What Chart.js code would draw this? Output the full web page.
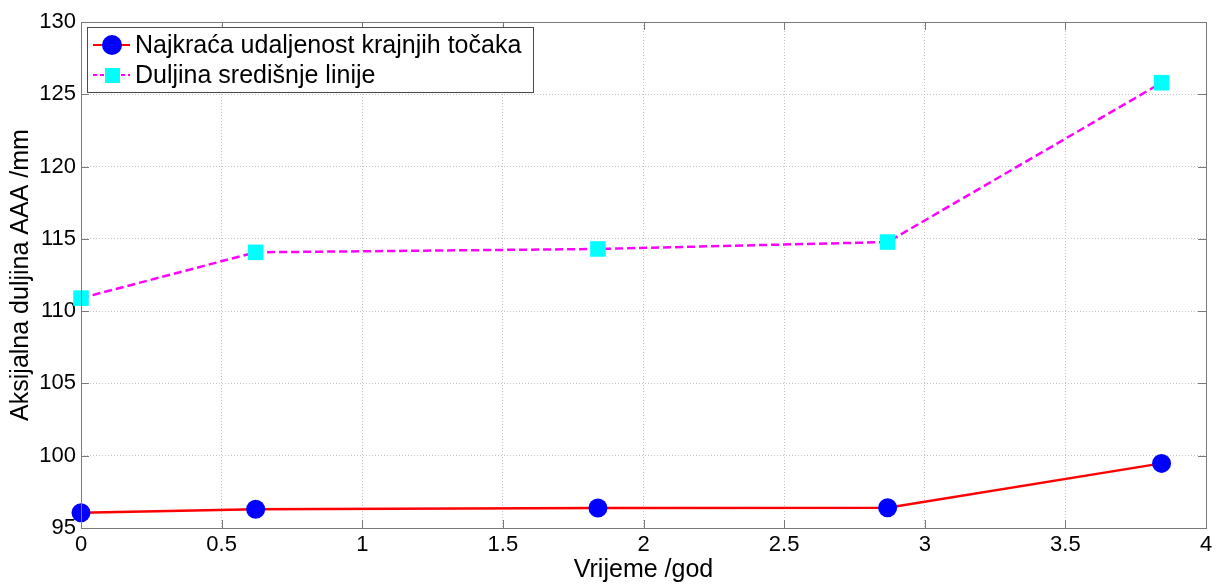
<!DOCTYPE html>
<html>
<head>
<meta charset="utf-8">
<script src="https://cdn.jsdelivr.net/npm/chart.js@4"></script>
<style>
  html, body { margin: 0; padding: 0; background: #fff; }
  #wrap { width: 1222px; height: 585px; }
</style>
</head>
<body>
<div id="wrap"><canvas id="lengthChart" width="1222" height="585"></canvas></div>
<script>
// measurement times (years) and axial lengths (mm)
const years = [0, 0.621, 1.838, 2.868, 3.842];
const endpointDistance = [96.05, 96.3, 96.38, 96.4, 99.47];
const centerlineLength = [110.9, 114.07, 114.3, 114.78, 125.8];
const seriesNames = ['Najkraća udaljenost krajnjih točaka', 'Duljina središnje linije'];
const xTicks = [0, 0.5, 1, 1.5, 2, 2.5, 3, 3.5, 4];
const yTicks = [95, 100, 105, 110, 115, 120, 125, 130];

const FONT = 'Liberation Sans, Arial, sans-serif';

function toPoints(xs, ys) {
    return xs.map((x, i) => ({ x: x, y: ys[i] }));
}

// box around the plot, inward ticks, and the legend in the upper left corner
const frame = {
    id: 'frame',
    afterDatasetsDraw(chart) {
        const { ctx, chartArea: a, scales } = chart;
        ctx.save();
        ctx.strokeStyle = '#7a7a7a';
        ctx.lineWidth = 1;
        ctx.strokeRect(a.left + 0.5, a.top + 0.5, a.right - a.left, a.bottom - a.top);
        ctx.beginPath();
        xTicks.forEach(v => {
            const px = Math.round(scales.x.getPixelForValue(v)) + 0.5;
            ctx.moveTo(px, a.bottom); ctx.lineTo(px, a.bottom - 8);
            ctx.moveTo(px, a.top); ctx.lineTo(px, a.top + 8);
        });
        yTicks.forEach(v => {
            const py = Math.round(scales.y.getPixelForValue(v)) + 0.5;
            ctx.moveTo(a.left, py); ctx.lineTo(a.left + 8, py);
            ctx.moveTo(a.right, py); ctx.lineTo(a.right - 8, py);
        });
        ctx.stroke();

        // legend
        const lx = a.left + 6, ly = a.top + 5, lw = 446, lh = 65;
        ctx.fillStyle = '#fff';
        ctx.fillRect(lx, ly, lw, lh);
        ctx.strokeStyle = '#4a4a4a';
        ctx.strokeRect(lx + 0.5, ly + 0.5, lw, lh);
        chart.data.datasets.forEach((ds, i) => {
            const cy = ly + 18 + i * 30;
            ctx.save();
            ctx.strokeStyle = ds.borderColor;
            ctx.lineWidth = 2;
            ctx.setLineDash(ds.borderDash ? [4, 3] : []);
            ctx.beginPath();
            ctx.moveTo(lx + 6, cy); ctx.lineTo(lx + 43, cy);
            ctx.stroke();
            ctx.restore();
            ctx.fillStyle = ds.pointBackgroundColor;
            if (ds.pointStyle === 'circle') {
                ctx.beginPath();
                ctx.arc(lx + 25, cy, 10, 0, Math.PI * 2);
                ctx.fill();
            } else {
                ctx.fillRect(lx + 18, cy - 7, 15, 15);
            }
            ctx.fillStyle = '#000';
            ctx.font = '25px ' + FONT;
            ctx.textBaseline = 'middle';
            ctx.fillText(ds.label, lx + 48, cy + 1);
        });
        ctx.restore();
    }
};

new Chart(document.getElementById('lengthChart'), {
    type: 'line',
    data: {
        datasets: [
            {
                label: seriesNames[0],
                data: toPoints(years, endpointDistance),
                borderColor: '#ff0000',
                borderWidth: 2.5,
                pointStyle: 'circle',
                pointRadius: 9.5,
                pointBackgroundColor: '#0000ff',
                pointBorderColor: '#0000ff',
                pointBorderWidth: 0,
                clip: false
            },
            {
                label: seriesNames[1],
                data: toPoints(years, centerlineLength),
                borderColor: '#ff00ff',
                borderWidth: 2.5,
                borderDash: [8, 4],
                pointStyle: 'rect',
                pointRadius: 11,
                pointBackgroundColor: '#00ffff',
                pointBorderColor: '#00ffff',
                pointBorderWidth: 0,
                clip: false
            }
        ]
    },
    options: {
        responsive: false,
        animation: false,
        layout: { padding: { left: 0, right: 16, top: 22, bottom: 0 } },
        plugins: {
            legend: { display: false },
            tooltip: { enabled: false }
        },
        scales: {
            x: {
                type: 'linear',
                min: 0,
                max: 4,
                afterBuildTicks: s => { s.ticks = xTicks.map(v => ({ value: v })); },
                afterFit: s => { s.height = 57; },
                ticks: {
                    color: '#000',
                    font: { family: FONT, size: 22 },
                    padding: 4,
                    maxRotation: 0,
                    callback: v => String(v)
                },
                grid: { color: '#c4c4c4', lineWidth: 1, drawTicks: false },
                border: { display: false, dash: [1, 2] },
                title: {
                    display: true,
                    text: 'Vrijeme /god',
                    color: '#000',
                    font: { family: FONT, size: 25 },
                    padding: { top: 0, bottom: 0 }
                }
            },
            y: {
                type: 'linear',
                min: 95,
                max: 130,
                afterBuildTicks: s => { s.ticks = yTicks.map(v => ({ value: v })); },
                afterFit: s => { s.width = 81; },
                ticks: { color: '#000', font: { family: FONT, size: 22 }, padding: 5 },
                grid: { color: '#c4c4c4', lineWidth: 1, drawTicks: false },
                border: { display: false, dash: [1, 2] },
                title: {
                    display: true,
                    text: 'Aksijalna duljina AAA /mm',
                    color: '#000',
                    font: { family: FONT, size: 25 },
                    padding: { top: 6, bottom: 0 }
                }
            }
        }
    },
    plugins: [frame]
});
</script>
</body>
</html>
